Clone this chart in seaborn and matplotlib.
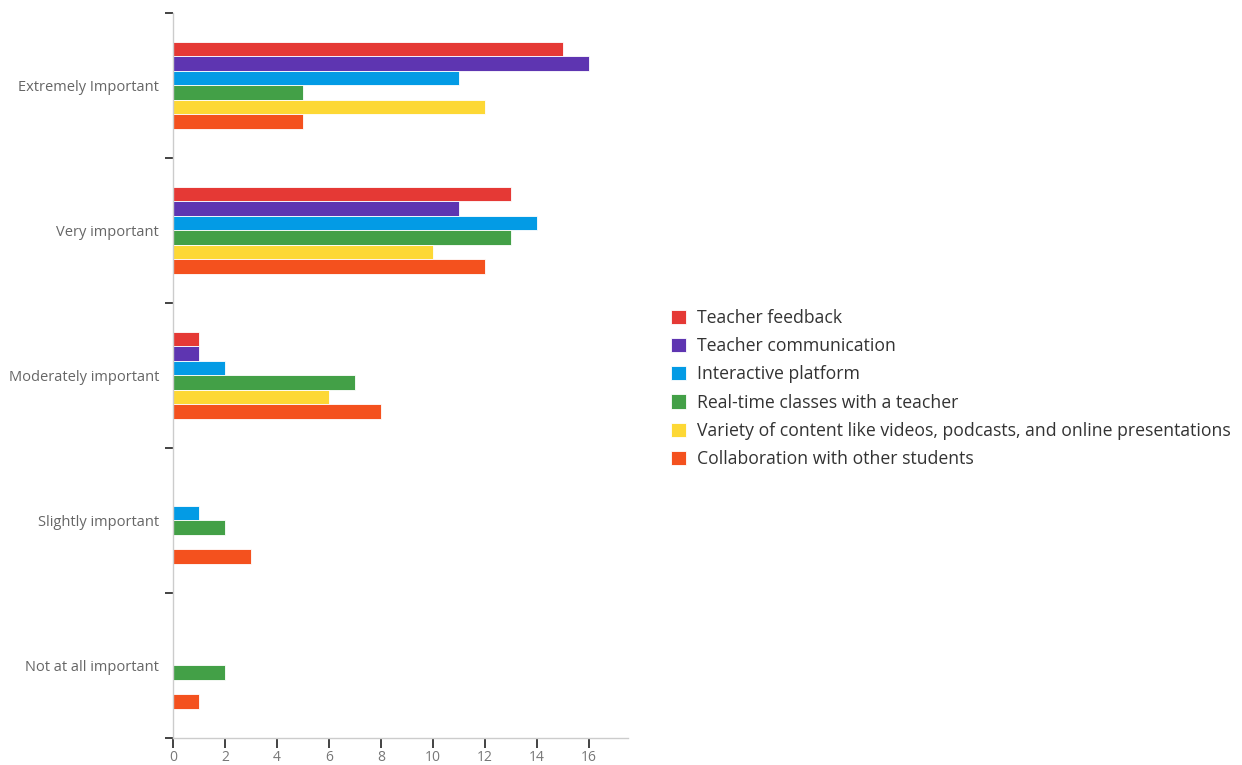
import pandas as pd
import seaborn as sns
import matplotlib.pyplot as plt
import numpy as np

# data
levels = ['Extremely Important', 'Very important', 'Moderately important',
          'Slightly important', 'Not at all important']
series = ['Teacher feedback', 'Teacher communication', 'Interactive platform',
          'Real-time classes with a teacher',
          'Variety of content like videos, podcasts, and online presentations',
          'Collaboration with other students']
teacher_feedback = [15, 13, 1, 0, 0]
teacher_communication = [16, 11, 1, 0, 0]
interactive_platform = [11, 14, 2, 1, 0]
realtime_classes = [5, 13, 7, 2, 2]
variety_content = [12, 10, 6, 0, 0]
collaboration = [5, 12, 8, 3, 1]
colors = ['#E53935', '#5E35B1', '#039BE5', '#43A047', '#FDD835', '#F4511E']

values = [teacher_feedback, teacher_communication, interactive_platform,
          realtime_classes, variety_content, collaboration]
rows = []
for name, vals in zip(series, values):
    for lvl, v in zip(levels, vals):
        rows.append({'level': lvl, 'series': name, 'count': v})
df = pd.DataFrame(rows)

sns.set_style('white')
plt.rcParams['font.family'] = ['Open Sans', 'DejaVu Sans']

fig = plt.figure(figsize=(12.42, 7.65), dpi=100)
ax = fig.add_axes([0.1393, 0.0353, 0.3663, 0.948])

sns.barplot(data=df, y='level', x='count', hue='series', order=levels,
            hue_order=series, palette=colors, saturation=1, orient='h',
            width=0.6, edgecolor='white', linewidth=0.6, ax=ax)

ax.set_xlim(0, 17.5)
ax.set_ylim(4.5, -0.5)
ax.set_xticks(np.arange(0, 17, 2))
ax.tick_params(axis='x', bottom=True, length=7, width=1.2, color='#222222',
               labelsize=10, labelcolor='#777777', pad=2)
# category boundaries carry the tick marks, labels sit at the centres
ax.set_yticks(np.arange(-0.5, 5, 1))
ax.set_yticklabels([])
ax.set_yticks(np.arange(5), minor=True)
ax.set_yticklabels(levels, minor=True)
ax.tick_params(axis='y', which='major', left=True, length=6, width=1.2,
               color='#222222')
ax.tick_params(axis='y', which='minor', left=True, length=0, labelsize=10.5,
               labelcolor='#666666', pad=10)
ax.set_xlabel('')
ax.set_ylabel('')
for s in ['top', 'right']:
    ax.spines[s].set_visible(False)
for s in ['left', 'bottom']:
    ax.spines[s].set_color('#cccccc')
    ax.spines[s].set_linewidth(1)

ax.legend(loc='upper left', bbox_to_anchor=(0.5403, 0.5962),
          bbox_transform=fig.transFigure, frameon=False, borderpad=0,
          borderaxespad=0, fontsize=12.7, handlelength=0.85, handleheight=0.85,
          labelspacing=0.58, handletextpad=0.6, labelcolor='#333333')

fig.savefig('out.png', dpi=100)
